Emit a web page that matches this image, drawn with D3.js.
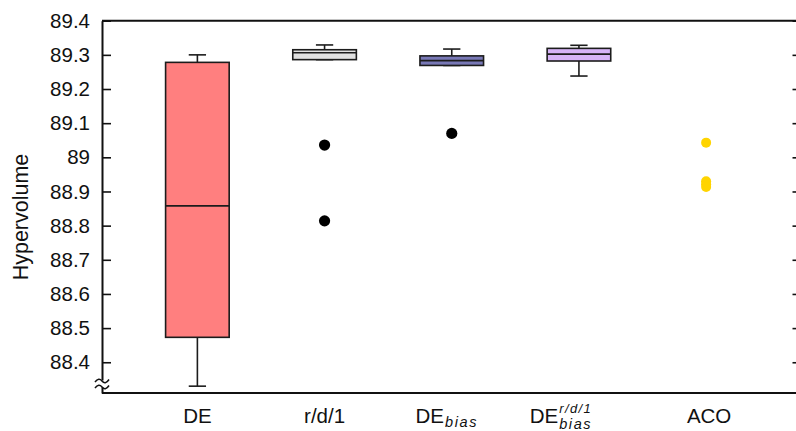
<!DOCTYPE html>
<html>
<head>
<meta charset="utf-8">
<script src="https://cdn.jsdelivr.net/npm/d3@7"></script>
<style>
  html, body { margin: 0; padding: 0; background: #fff; }
  svg { display: block; }
  text { font-family: "Liberation Sans", Arial, Helvetica, sans-serif; fill: #111; }
</style>
</head>
<body>
<script>
// Hypervolume distributions per algorithm
const categories   = ["DE", "r/d/1", "DE_bias", "DE_bias^r/d/1", "ACO"];
const labelMain    = ["DE", "r/d/1", "DE", "DE", "ACO"];
const labelSub     = ["", "", "bias", "bias", ""];
const labelSup     = ["", "", "", "r/d/1", ""];

const whiskerLow   = [88.330, 89.286, 89.269, 89.238, null];
const q1           = [88.473, 89.286, 89.269, 89.282, null];
const median       = [88.858, 89.306, 89.283, 89.302, null];
const q3           = [89.278, 89.315, 89.297, 89.319, null];
const whiskerHigh  = [89.300, 89.329, 89.317, 89.328, null];
const outliers     = [[], [89.036, 88.814], [89.070], [], [89.043, 88.930, 88.921, 88.913]];

const yTicks       = [88.4, 88.5, 88.6, 88.7, 88.8, 88.9, 89.0, 89.1, 89.2, 89.3, 89.4];

const fills        = ["#ff7f7f", "#e0e0e0", "#7878b6", "#d7b4f7", "#ffd400"];

const W = 796, H = 431;
const plotLeft = 102, plotTop = 20.7, plotBottom = 393, plotRight = 801.5;

const svg = d3.select("body").append("svg").attr("width", W).attr("height", H);

const x = d3.scaleLinear().domain([0.25, categories.length + 0.75]).range([plotLeft, plotRight]);
const y = d3.scaleLinear().domain([88.31, 89.4]).range([plotBottom, plotTop]);

const axisColor = "#111";

// left axis with inward ticks
const gy = svg.append("g").attr("transform", `translate(${plotLeft},0)`)
  .call(d3.axisLeft(y).tickValues(yTicks).tickSize(-9).tickSizeOuter(0)
        .tickPadding(12).tickFormat(d3.format("~g")));
gy.select(".domain").attr("stroke", axisColor).attr("stroke-width", 2);
gy.selectAll(".tick line").attr("stroke", axisColor).attr("stroke-width", 1.6);
gy.selectAll(".tick text").attr("font-size", 20.5).attr("fill", "#111")
  .attr("font-family", "Liberation Sans, Arial, sans-serif");

// right-side ticks (frame edge sits just outside the view)
const gr = svg.append("g").attr("transform", `translate(${plotRight},0)`)
  .call(d3.axisRight(y).tickValues(yTicks).tickSize(-9).tickSizeOuter(0).tickFormat(""));
gr.select(".domain").remove();
gr.selectAll(".tick line").attr("stroke", axisColor).attr("stroke-width", 1.6);

// top and bottom frame lines
svg.append("line").attr("x1", plotLeft).attr("x2", W + 5).attr("y1", plotTop).attr("y2", plotTop)
  .attr("stroke", axisColor).attr("stroke-width", 2);
svg.append("line").attr("x1", plotLeft).attr("x2", W + 5).attr("y1", plotBottom).attr("y2", plotBottom)
  .attr("stroke", axisColor).attr("stroke-width", 2);

// axis break mark near the bottom of the y axis
const brk = svg.append("g");
brk.append("rect").attr("x", plotLeft - 3).attr("y", 380.5).attr("width", 6).attr("height", 7).attr("fill", "#fff");
[381, 387].forEach(yy => {
  brk.append("path")
    .attr("d", `M${plotLeft - 7},${yy + 1} c2.5,-3.5 5,-3.5 7,-1 s4.5,2.5 7,-1.5`)
    .attr("fill", "none").attr("stroke", axisColor).attr("stroke-width", 1.5);
});

// y axis title
svg.append("text")
  .attr("transform", "translate(28,217) rotate(-90)")
  .attr("text-anchor", "middle")
  .attr("font-size", 21.5)
  .text("Hypervolume");

// boxes
const boxHalf = 0.25, capHalf = 0.068;
const edge = "#1c1c1c";
categories.forEach((c, i) => {
  const cx = i + 1;
  const g = svg.append("g");
  if (q1[i] != null) {
    // whiskers
    g.append("line").attr("x1", x(cx)).attr("x2", x(cx))
      .attr("y1", y(whiskerHigh[i])).attr("y2", y(q3[i]))
      .attr("stroke", edge).attr("stroke-width", 1.6);
    g.append("line").attr("x1", x(cx)).attr("x2", x(cx))
      .attr("y1", y(q1[i])).attr("y2", y(whiskerLow[i]))
      .attr("stroke", edge).attr("stroke-width", 1.6);
    [whiskerHigh[i], whiskerLow[i]].forEach(v => {
      g.append("line").attr("x1", x(cx - capHalf)).attr("x2", x(cx + capHalf))
        .attr("y1", y(v)).attr("y2", y(v))
        .attr("stroke", edge).attr("stroke-width", 1.6);
    });
    // box
    g.append("rect")
      .attr("x", x(cx - boxHalf)).attr("width", x(cx + boxHalf) - x(cx - boxHalf))
      .attr("y", y(q3[i])).attr("height", y(q1[i]) - y(q3[i]))
      .attr("fill", fills[i]).attr("stroke", edge).attr("stroke-width", 1.6);
    // median
    g.append("line").attr("x1", x(cx - boxHalf)).attr("x2", x(cx + boxHalf))
      .attr("y1", y(median[i])).attr("y2", y(median[i]))
      .attr("stroke", edge).attr("stroke-width", 1.6);
  }
  // outlying points
  const isBox = q1[i] != null;
  g.selectAll("circle").data(outliers[i]).join("circle")
    .attr("cx", x(cx)).attr("cy", d => y(d))
    .attr("r", isBox ? 5.6 : 5)
    .attr("fill", isBox ? "#000" : fills[i]);
});

// category labels with math-style sub/superscripts
const labelNudge = [0, 0, -5, -18, 3];
categories.forEach((c, i) => {
  const g = svg.append("g");
  const main = g.append("text").attr("x", 0).attr("y", 0).attr("font-size", 20.5).text(labelMain[i]);
  const wMain = main.node().getComputedTextLength();
  let wExtra = 0;
  const mathFont = "Liberation Serif, DejaVu Serif, serif";
  if (labelSub[i]) {
    const s = g.append("text").attr("x", wMain + 1).attr("y", labelSup[i] ? 5.5 : 4)
      .attr("font-family", mathFont).attr("font-style", "italic")
      .attr("font-size", 14.5).attr("letter-spacing", 1.6).text(labelSub[i]);
    wExtra = Math.max(wExtra, s.node().getComputedTextLength() + 1);
  }
  if (labelSup[i]) {
    const s = g.append("text").attr("x", wMain + 1).attr("y", -10.5)
      .attr("font-family", mathFont).attr("font-style", "italic")
      .attr("font-size", 13).attr("letter-spacing", 1.4).text(labelSup[i]);
    wExtra = Math.max(wExtra, s.node().getComputedTextLength() + 1);
  }
  const total = wMain + wExtra;
  g.attr("transform", `translate(${x(i + 1) - total / 2 + labelNudge[i]},423)`);
});
</script>
</body>
</html>
